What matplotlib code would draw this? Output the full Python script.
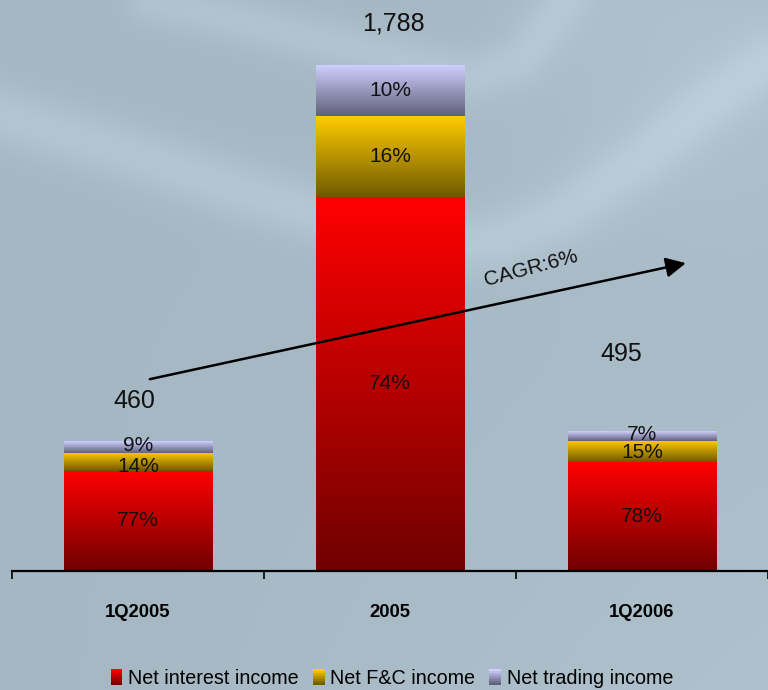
import numpy as np
import matplotlib.pyplot as plt
from matplotlib.patches import Rectangle
from matplotlib.legend_handler import HandlerBase

# Dane
categories = ['1Q2005', '2005', '1Q2006']
totals = [460, 1788, 495]
total_labels = ['460', '1,788', '495']
interest_pct = [77, 74, 78]
fc_pct = [14, 16, 15]
trading_pct = [9, 10, 7]
series_names = ['Net interest income', 'Net F&C income', 'Net trading income']
cagr_label = 'CAGR:6%'

# Kolory gradientów (góra, dół)
grad_colors = [
    ((255, 0, 0), (112, 0, 0)),
    ((255, 204, 0), (112, 90, 0)),
    ((206, 206, 255), (96, 96, 122)),
]

W, H, DPI = 768, 690, 100
plt.rcParams['font.family'] = ['Liberation Sans', 'DejaVu Sans']

fig = plt.figure(figsize=(W / DPI, H / DPI), dpi=DPI)

# Tło z jasnymi falami
yy, xx = np.mgrid[0:H, 0:W].astype(float)
base = np.array([165.0, 183.0, 195.0])
light = np.zeros((H, W))


def ridge(points, sigma, amp):
    pts = np.array(points, dtype=float)
    seg = np.r_[0, np.cumsum(np.hypot(*np.diff(pts, axis=0).T))]
    s = np.linspace(0, seg[-1], 300)
    px = np.interp(s, seg, pts[:, 0])
    py = np.interp(s, seg, pts[:, 1])
    d = np.full((H, W), 1e9)
    for a, b in zip(px, py):
        d = np.minimum(d, (xx - a) ** 2 + (yy - b) ** 2)
    return amp * np.exp(-d / (2 * sigma ** 2))


light += ridge([(0, 115), (120, 150), (240, 190), (360, 225), (440, 245),
                (500, 240), (560, 215), (640, 160), (700, 110), (768, 60)], 22, 14)
light += ridge([(150, 0), (280, 30), (400, 60), (470, 78), (520, 60),
                (555, 15), (565, 0)], 18, 12)
light += 9 * np.exp(-((xx - 700) ** 2 + (yy - 30) ** 2) / (2 * 140 ** 2))
light += 10 * (yy / H) * (xx / W)
img = np.clip(base[None, None, :] + light[..., None], 0, 255) / 255.0

bg = fig.add_axes([0, 0, 1, 1], zorder=-1)
bg.imshow(img, aspect='auto', extent=(0, 1, 0, 1), origin='upper')
bg.axis('off')

# Wykres główny
ax = fig.add_axes([12 / W, (H - 571) / H, (W - 12) / W, 571 / H])
ax.set_facecolor('none')
ax.set_xlim(-0.5, 2.488)
ax.set_ylim(0, 2018)

x = np.arange(len(categories))
totals_arr = np.array(totals, dtype=float)
shares = [np.array(interest_pct), np.array(fc_pct), np.array(trading_pct)]
bottom = np.zeros(len(categories))
width = 0.59

# przesunięcia etykiet procentowych w pikselach (dla cienkich segmentów)
label_shift = [[0, 0, 0], [-5, 0, -1], [1, 0, 1]]


def gradient(top, bot, n=64):
    t = np.linspace(0, 1, n)[:, None]
    c = np.array(top)[None, :] * (1 - t) + np.array(bot)[None, :] * t
    return (c / 255.0)[:, None, :]


for k, (share, (ctop, cbot)) in enumerate(zip(shares, grad_colors)):
    vals = totals_arr * share / 100.0
    bars = ax.bar(x, vals, width, bottom=bottom, color='none', linewidth=0)
    for j, (rect, s) in enumerate(zip(bars, share)):
        x0, y0 = rect.get_x(), rect.get_y()
        w, h = rect.get_width(), rect.get_height()
        ax.imshow(gradient(ctop, cbot), extent=(x0, x0 + w, y0, y0 + h),
                  origin='upper', aspect='auto', zorder=2)
        ax.annotate(f'{s}%', (x0 + w / 2, y0 + h / 2),
                    xytext=(0, label_shift[k][j]), textcoords='offset pixels',
                    ha='center', va='center', fontsize=15, color='#111111',
                    zorder=3)
    bottom += vals

# Sumy nad słupkami
offsets = [(-4, 40), (3, 42), (-21, 77)]
for xi, tot, lab, off in zip(x, totals, total_labels, offsets):
    ax.annotate(lab, (xi, tot), xytext=off, textcoords='offset pixels',
                ha='center', va='center', fontsize=18, color='#111111')

# Strzałka CAGR
ax.annotate('', xy=(2.174, 1088), xytext=(0.047, 678),
            arrowprops=dict(arrowstyle='-|>', color='black', lw=1.8,
                            mutation_scale=30, shrinkA=0, shrinkB=0), zorder=4)
ax.text(1.56, 1070, cagr_label, rotation=15, ha='center', va='center',
        fontsize=15, color='#111111', zorder=4)

# Osie
for side in ['left', 'right', 'top']:
    ax.spines[side].set_visible(False)
ax.spines['bottom'].set_linewidth(1.6)
ax.spines['bottom'].set_zorder(5)
ax.set_yticks([])
ax.set_xticks(x, categories, fontweight='bold', fontsize=13.3)
ax.set_xticks([-0.5, 0.5, 1.5, 2.5], minor=True)
ax.tick_params(axis='x', which='major', length=0, pad=24)
ax.tick_params(axis='x', which='minor', length=5.5, width=1.2, direction='out')


# Legenda z gradientowymi kwadratami
class GradientHandler(HandlerBase):
    def __init__(self, top, bot):
        super().__init__()
        self.top = np.array(top) / 255.0
        self.bot = np.array(bot) / 255.0

    def create_artists(self, legend, orig_handle, xdescent, ydescent,
                       width, height, fontsize, trans):
        n = 8
        arts = []
        for i in range(n):
            t = i / (n - 1)
            c = self.top * (1 - t) + self.bot * t
            r = Rectangle((-xdescent, -ydescent + height * (1 - (i + 1) / n)),
                          width, height / n, facecolor=c, edgecolor='none',
                          transform=trans)
            arts.append(r)
        return arts


handles = [Rectangle((0, 0), 1, 1) for _ in series_names]
hmap = {h: GradientHandler(*gc) for h, gc in zip(handles, grad_colors)}
fig.legend(handles, series_names, handler_map=hmap, loc='center',
           bbox_to_anchor=(392 / W, 1 - 678 / H), ncol=3, frameon=False,
           prop={'size': 14.2},
           handlelength=0.6, handleheight=0.85, handletextpad=0.3,
           columnspacing=0.7)

fig.savefig('out.png', dpi=DPI)
